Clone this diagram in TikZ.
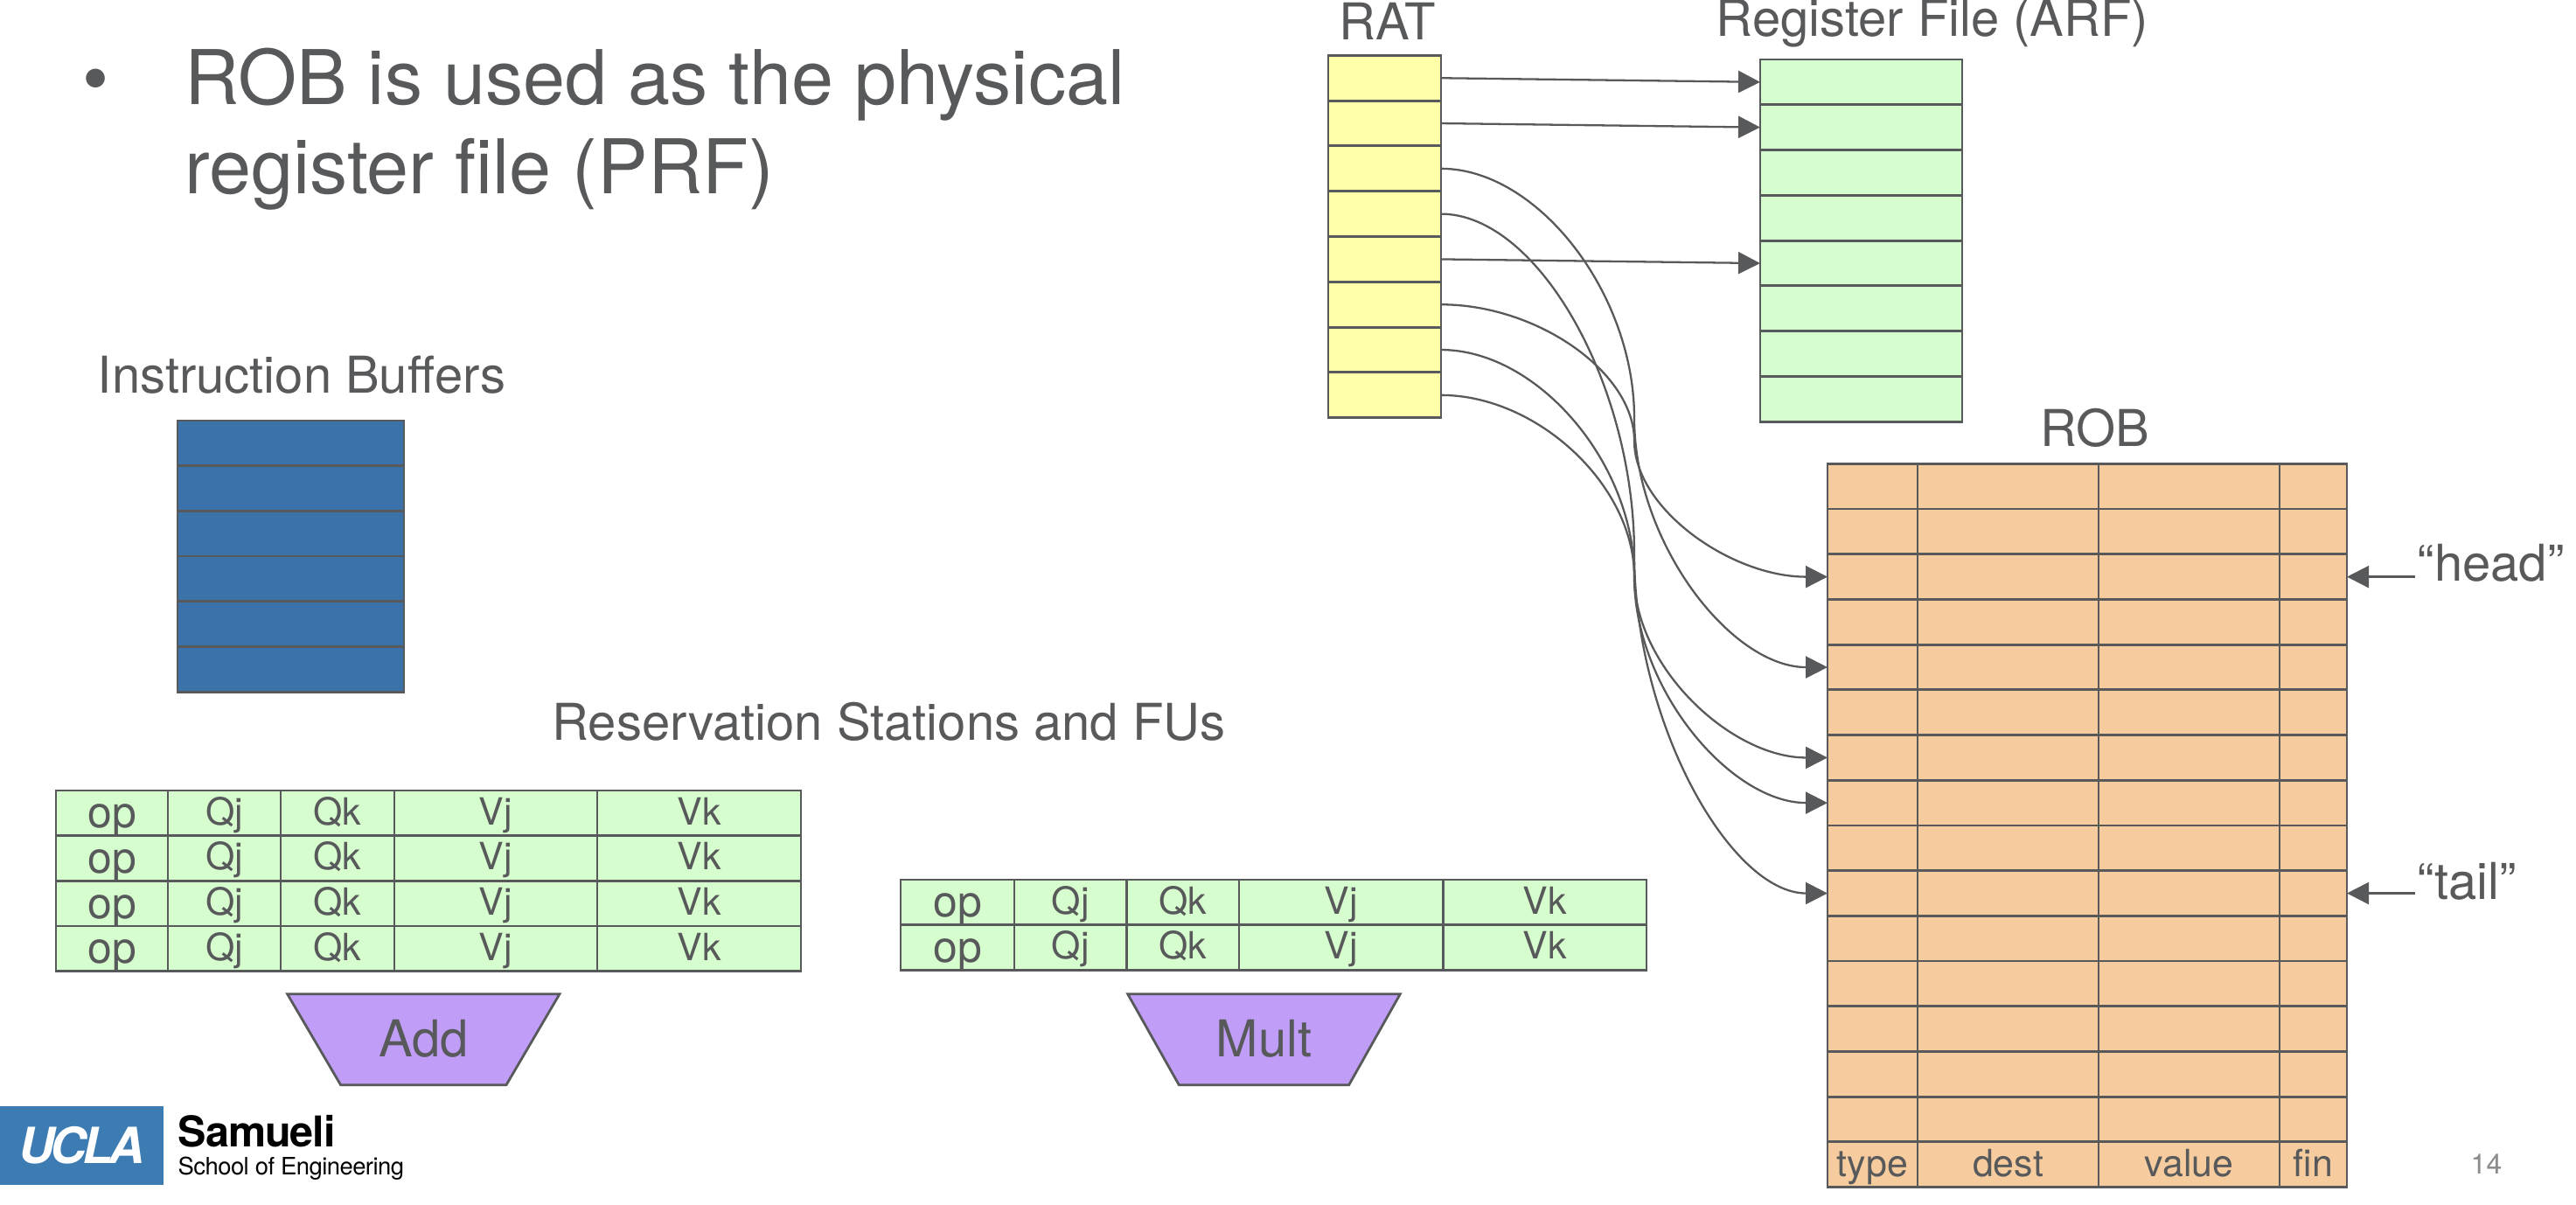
\documentclass[tikz,border=0pt]{standalone}
\usepackage{fontspec}
\setmainfont{TeX Gyre Heros}
\usetikzlibrary{arrows.meta,calc,shapes.geometric}
\definecolor{inkgray}{HTML}{58595B}
\definecolor{numgray}{HTML}{8C8C8C}
\definecolor{ratfill}{HTML}{FFFFAA}
\definecolor{arffill}{HTML}{D6FDCD}
\definecolor{robfill}{HTML}{F6CC9F}
\definecolor{ibfill}{HTML}{3B72A9}
\definecolor{fufill}{HTML}{C09DF6}
\definecolor{uclablue}{HTML}{3C7CB3}
\tikzset{
	label58/.style={inner sep=0, text=inkgray, anchor=base, font=\fontsize{16.5pt}{20pt}\selectfont},
	slot/.style={draw=inkgray, line width=0.8pt, inner sep=0, outer sep=0, anchor=north west, minimum height=0.517cm},
	ratslot/.style={slot, fill=ratfill, minimum width=1.29cm},
	arfslot/.style={slot, fill=arffill, minimum width=2.31cm},
	ibslot/.style={slot, fill=ibfill, minimum width=2.59cm},
	robcell/.style={slot, fill=robfill, text=inkgray, font=\fontsize{12.2pt}{14pt}\selectfont, text height=0.38cm, text depth=0.111cm},
	rscell/.style={robcell, fill=arffill},
	opcell/.style={rscell, font=\fontsize{14.2pt}{16pt}\selectfont, text height=0.42cm, text depth=0.083cm},
	funit/.style={draw=inkgray, line width=0.8pt, fill=fufill, text=inkgray, inner sep=0, outer sep=0, trapezium, trapezium stretches=true, shape border rotate=180, trapezium angle=53.1, minimum width=3.12cm, minimum height=1.04cm, text height=0.42cm, text depth=0.02cm, font=\fontsize{16.5pt}{20pt}\selectfont},
	link/.style={draw=inkgray, line width=0.65pt, -{Triangle[length=0.25cm,width=0.25cm]}},
	%Connettore curvo: orizzontale, verticale a meta, orizzontale
	swoop/.style={to path={let \p1=(\tikztostart), \p2=(\tikztotarget), \n1={0.5*(\x1+\x2)}, \n2={0.5*(\y1+\y2)} in
		.. controls ({0.5*(\x1+\n1)},\y1) and (\n1,{\y1+0.25*(\y2-\y1)}) .. (\n1,\n2)
		.. controls (\n1,{\y1+0.75*(\y2-\y1)}) and ({0.5*(\n1+\x2)},\y2) .. (\tikztotarget)}}
}

\begin{document}
\begin{tikzpicture}
		\useasboundingbox (0,0) rectangle (29.46,-13.78);
		%Titolo
		\node [inner sep=0, text=inkgray, anchor=center, font=\fontsize{24.5pt}{29pt}\selectfont] (bullet) at (1.10,-0.99) {\textbullet};
		\node [inner sep=0, text=inkgray, anchor=base west, align=left, font=\fontsize{24.56pt}{29pt}\selectfont] (title) at (2.105,-2.215) {ROB is used as the physical\\register file (PRF)};
		%Etichette
		\node [label58] (ratlabel) at (15.87,-0.46) {RAT};
		\node [label58] (arflabel) at (22.10,-0.415) {Register File (ARF)};
		\node [label58] (roblabel) at (23.96,-5.11) {ROB};
		\node [label58] (iblabel) at (3.45,-4.50) {Instruction Buffers};
		\node [label58] (rslabel) at (10.165,-8.47) {Reservation Stations and FUs};
		\node [label58, anchor=base west] (headlabel) at (27.64,-6.65) {“head”};
		\node [label58, anchor=base west] (taillabel) at (27.64,-10.285) {“tail”};
		%RAT e ARF
		\foreach \i in {0,...,7} {
			\node [ratslot] (rat\i) at (15.19,-0.634-0.518*\i) {};
			\node [arfslot] (arf\i) at (20.13,-0.68-0.518*\i) {};
		}
		%Instruction buffers
		\foreach \i in {0,...,5}
			\node [ibslot] (ib\i) at (2.03,-4.81-0.517*\i) {};
		%ROB
		\foreach \r in {0,...,15}
			\foreach \x/\w/\c in {20.90/1.03/a, 21.93/2.07/b, 24.00/2.07/c, 26.07/0.77/d}
				\node [robcell, minimum width=\w cm] (rob\r\c) at (\x,-5.304-0.517*\r) {};
		\foreach \x/\t in {21.415/type, 22.965/dest, 25.035/value, 26.455/fin}
			\node [robcell, draw=none, fill=none, anchor=north] (rob\t) at (\x,-13.059) {\t};
		%Stazioni di prenotazione
		\foreach \r in {0,...,3}
			\foreach \x/\w/\t in {1.92/1.29/Qj, 3.21/1.30/Qk, 4.51/2.32/Vj, 6.83/2.33/Vk}
				\node [rscell, minimum width=\w cm] (add\r\t) at (\x,-9.04-0.517*\r) {\t};
		\foreach \r in {0,...,3}
			\node [opcell, minimum width=1.28cm] (add\r op) at (0.64,-9.04-0.517*\r) {op};
		\foreach \r in {0,1}
			\foreach \x/\w/\t in {11.60/1.284/Qj, 12.884/1.286/Qk, 14.17/2.335/Vj, 16.505/2.325/Vk}
				\node [rscell, minimum width=\w cm] (mul\r\t) at (\x,-10.06-0.517*\r) {\t};
		\foreach \r in {0,1}
			\node [opcell, minimum width=1.30cm] (mul\r op) at (10.30,-10.06-0.517*\r) {op};
		%Unita funzionali
		\node [funit] (addfu) at (4.843,-11.887) {Add};
		\node [funit] (mulfu) at (14.455,-11.887) {Mult};
		%Collegamenti RAT
		\draw [link] (rat0.east) -- (arf0.west);
		\draw [link] (rat1.east) -- (arf1.west);
		\draw [link] (rat4.east) -- (arf4.west);
		\draw [link] (rat2.east) to [swoop] (rob4a.west);
		\draw [link] (rat3.east) to [swoop] (rob9a.west);
		\draw [link] (rat5.east) to [swoop] (rob2a.west);
		\draw [link] (rat6.east) to [swoop] (rob7a.west);
		\draw [link] (rat7.east) to [swoop] (rob6a.west);
		%Puntatori
		\draw [link] (headlabel.west |- rob2d.east) ++(-0.02,0) -- (rob2d.east);
		\draw [link] (taillabel.west |- rob9d.east) ++(-0.02,0) -- (rob9d.east);
		%Logo e numero
		\node [fill=uclablue, inner sep=0, outer sep=0, anchor=north west, minimum width=1.866cm, minimum height=0.90cm, text=white, font=\fontsize{16.2pt}{18pt}\bfseries\itshape\selectfont] (ucla) at (0,-12.65) {\addfontfeature{LetterSpace=-8}UCLA};
		\node [inner sep=0, anchor=base west, text=black, font=\fontsize{13.8pt}{16pt}\bfseries\selectfont] (samueli) at (2.03,-13.12) {\addfontfeature{LetterSpace=-2}Samueli};
		\node [inner sep=0, anchor=base west, text=black, font=\fontsize{7.8pt}{9pt}\selectfont] (school) at (2.03,-13.44) {\addfontfeature{LetterSpace=-2}School of Engineering};
		\node [inner sep=0, anchor=base west, text=numgray, font=\fontsize{9.1pt}{11pt}\selectfont] (pagenum) at (28.25,-13.43) {14};
	\end{tikzpicture}
\end{document}
